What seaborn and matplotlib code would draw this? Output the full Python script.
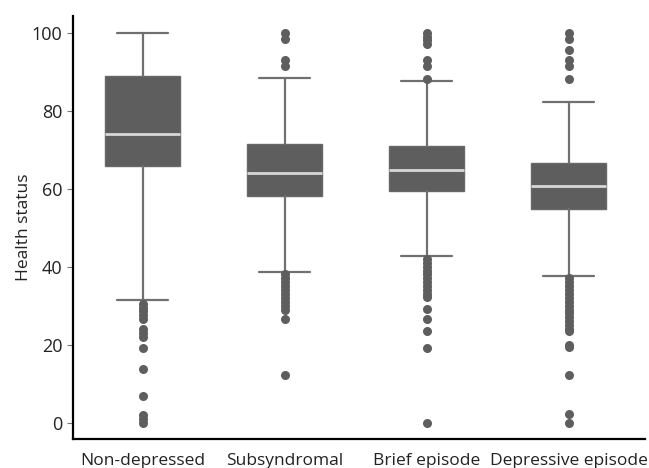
import matplotlib
matplotlib.use("Agg")
import matplotlib.pyplot as plt
import seaborn as sns
import pandas as pd

# Box statistics (health status, 0-100)
groups = ["Non-depressed", "Subsyndromal", "Brief episode", "Depressive episode"]
whisker_low = [31.4, 38.7, 42.8, 37.7]
q1 = [65.8, 58.1, 59.3, 54.7]
medians = [73.9, 64.0, 64.7, 60.7]
q3 = [88.8, 71.4, 70.9, 66.6]
whisker_high = [100.0, 88.5, 87.7, 82.1]

# Outliers per group
fliers_nondep = [30.5, 29.5, 28.5, 27.5, 26.5, 24.0, 23.0, 22.0, 19.2, 13.8, 6.7, 2.0, 0.9, 0.0]
fliers_subsyn = [100.0, 98.5, 93.0, 91.5, 38.0, 37.0, 36.0, 35.0, 34.0, 33.0, 32.0,
                 31.0, 30.0, 29.0, 26.5, 12.1]
fliers_brief = [100.0, 99.0, 98.0, 97.0, 93.0, 91.5, 88.2, 42.0, 41.0, 40.0, 39.0,
                38.0, 37.0, 36.0, 35.0, 34.0, 33.0, 32.3, 29.2, 26.5, 23.6, 19.2, 0.0]
fliers_depr = [100.0, 98.5, 95.5, 93.0, 91.5, 88.0, 37.0, 36.0, 35.0, 34.0, 33.0,
               32.0, 31.0, 30.0, 29.0, 28.0, 27.0, 26.0, 25.0, 24.0, 23.5, 20.0,
               19.5, 12.1, 2.2, 0.0]

dark = "#5e5e5e"

sns.set_style("ticks")
plt.rcParams["font.family"] = ["Open Sans", "DejaVu Sans"]

fig = plt.figure(figsize=(6.49, 4.68), dpi=100)
ax = fig.add_axes([0.1125, 0.062, 0.882, 0.904])

stats = []
for i, g in enumerate(groups):
    stats.append({"label": g, "whislo": whisker_low[i], "q1": q1[i], "med": medians[i],
                  "q3": q3[i], "whishi": whisker_high[i], "fliers": []})

ax.bxp(stats, positions=range(len(groups)), widths=0.53, patch_artist=True,
       showfliers=False, manage_ticks=False,
       boxprops=dict(facecolor=dark, edgecolor="#686868", linewidth=1),
       medianprops=dict(color="#d8d8d8", linewidth=2),
       whiskerprops=dict(color="#707070", linewidth=1.6),
       capprops=dict(color="#707070", linewidth=1.6),
       capwidths=0.36)

fl = pd.DataFrame({
    "group": [groups[0]] * len(fliers_nondep) + [groups[1]] * len(fliers_subsyn)
             + [groups[2]] * len(fliers_brief) + [groups[3]] * len(fliers_depr),
    "value": fliers_nondep + fliers_subsyn + fliers_brief + fliers_depr,
})
sns.stripplot(data=fl, x="group", y="value", order=groups, jitter=False,
              color=dark, size=6.5, linewidth=0, ax=ax, zorder=3)

ax.set_xlim(-0.49, 3.54)
ax.set_ylim(-4.2, 104.3)
ax.set_yticks([0, 20, 40, 60, 80, 100])
ax.set_xlabel("")
ax.set_ylabel("Health status", fontsize=12.5, color="#222222", labelpad=0)
ax.tick_params(axis="y", labelsize=13, colors="#222222", length=4, color="#777777")
ax.tick_params(axis="x", labelsize=12.5, colors="#222222", length=0, pad=10)
for side in ["left", "bottom"]:
    ax.spines[side].set_linewidth(1.6)
    ax.spines[side].set_color("black")
sns.despine(ax=ax)

fig.savefig("out.png", dpi=100)
